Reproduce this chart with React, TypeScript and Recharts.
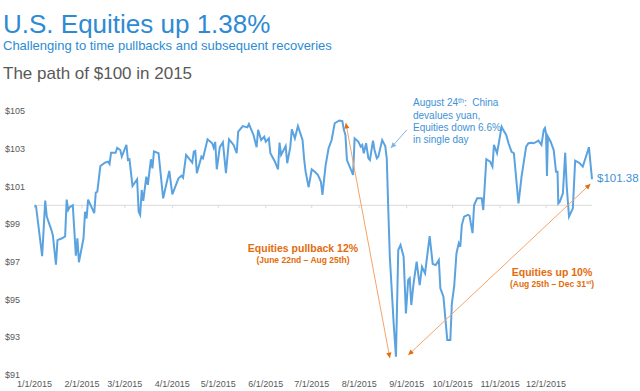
import React from 'react';
import { LineChart, Line, XAxis, YAxis, ReferenceLine } from 'recharts';

// day of year (0 = Jan 1) and value of $100 invested
const days = [
  0, 1, 5, 7, 8, 11, 12, 14, 15, 18, 20, 21, 22, 23, 25, 27, 28, 29, 32, 33, 34, 35, 39, 40, 41, 43, 46, 48, 49,
  50, 53, 54, 56, 57, 60, 61, 62, 64, 67, 68, 69, 70, 71, 73, 74, 76, 77, 78, 81, 84, 88, 90, 94, 96, 97, 99,
  103, 104, 105, 106, 109, 110, 113, 116, 117, 118, 119, 121, 123, 125, 127, 130, 132, 133, 136, 139, 140, 143,
  145, 146, 148, 150, 151, 153, 154, 157, 159, 160, 161, 164, 165, 167, 168, 170, 172, 175, 176, 177, 179, 181,
  183, 185, 187, 188, 190, 192, 194, 196, 199, 201, 202, 203, 204, 208, 209, 211.5, 213, 214, 215, 216.5, 218,
  219, 221, 222, 223.5, 224.5, 227, 229, 230, 231, 232, 233, 234.5, 236, 237.5, 239, 241, 242.5, 244, 245, 246,
  247.5, 249.5, 251.5, 253, 255, 258, 260, 262, 264, 265, 267, 269.5, 271.5, 272.5, 274, 275.5, 277, 278, 279,
  280.5, 283, 284, 286, 287, 289, 292, 293, 295, 297.5, 299, 300, 302, 303.5, 305, 306, 308, 309.5, 311.5, 313,
  316, 318, 321, 322.5, 324.5, 326, 329, 331, 332.5, 333.3, 334, 334.6, 335.2, 337, 339, 340.5, 341.5, 342, 343,
  345, 346.5, 347.5, 349, 351.5, 353, 356, 358, 362, 364,
];
const values = [
  100.0, 99.95, 97.3, 100.25, 99.4, 98.7, 98.4, 96.85, 98.15, 98.25, 98.35, 100.3, 99.75, 99.9, 100.0, 97.33,
  98.25, 96.98, 98.25, 99.66, 99.3, 100.3, 99.58, 100.67, 100.72, 102.08, 102.26, 102.31, 102.19, 102.79, 102.79,
  103.05, 102.93, 102.58, 103.21, 102.4, 102.44, 101.02, 101.38, 99.66, 99.49, 100.81, 100.24, 101.52, 101.08,
  102.44, 101.96, 102.86, 102.76, 100.37, 101.82, 100.58, 101.43, 101.57, 101.46, 102.67, 102.26, 102.84, 102.88,
  101.7, 102.58, 102.49, 103.5, 103.29, 103.05, 103.36, 101.91, 103.08, 103.34, 101.7, 103.5, 103.2, 102.76,
  103.9, 104.2, 104.13, 104.31, 103.73, 103.08, 104.0, 103.46, 103.64, 103.37, 103.55, 102.76, 102.31, 101.91,
  103.32, 102.67, 103.14, 102.23, 103.08, 104.03, 103.55, 104.2, 103.46, 102.49, 101.78, 100.96, 101.91, 101.78,
  101.61, 101.25, 100.55, 102.08, 103.02, 103.46, 104.35, 104.5, 104.47, 104.0, 103.73, 102.4, 101.61, 103.55,
  103.37, 103.11, 103.2, 102.76, 103.29, 102.49, 102.4, 103.43, 102.93, 102.49, 102.58, 103.46, 103.14, 102.49,
  99.75, 97.27, 95.86, 93.74, 91.97, 97.63, 97.9, 97.27, 94.27, 96.04, 96.13, 94.71, 95.86, 97.01, 95.77, 96.74,
  96.39, 98.37, 96.89, 96.83, 97.1, 95.6, 95.15, 92.86, 92.86, 94.8, 95.68, 97.45, 97.99, 97.8, 98.95, 99.4,
  99.49, 99.45, 98.52, 100.0, 100.37, 100.37, 99.75, 102.44, 102.31, 102.05, 103.2, 102.76, 103.46, 104.17, 104.0,
  103.73, 103.29, 102.84, 102.76, 100.1, 101.52, 103.11, 103.29, 103.32, 103.29, 103.43, 103.2, 104.0, 104.1,
  103.8, 101.55, 103.64, 103.37, 102.93, 101.78, 101.78, 100.1, 100.19, 100.64, 102.79, 100.99, 99.4, 99.84,
  102.37, 102.23, 102.05, 103.08, 101.38,
];

const monthDays = [0, 31, 59, 90, 120, 151, 181, 212, 243, 273, 304, 334];
const monthLabels = [
  '1/1/2015', '2/1/2015', '3/1/2015', '4/1/2015', '5/1/2015', '6/1/2015',
  '7/1/2015', '8/1/2015', '9/1/2015', '10/1/2015', '11/1/2015', '12/1/2015',
];
const yTicks = [91, 93, 95, 97, 99, 101, 103, 105];

// annotation arrows: [from, to] in (day, value)
const pullbackArrow = [{ x: 203.3, y: 104.36 }, { x: 232, y: 91.9 }];
const recoveryArrow = [{ x: 244, y: 92.06 }, { x: 363, y: 101.13 }];
const chinaArrow = [{ x: 243.1, y: 104.0 }, { x: 232.7, y: 103.04 }];

const data = days.map((d, i) => ({ day: d, value: values[i] }));

const FONT = '"Liberation Sans", Arial, sans-serif';
const ORANGE = '#E46C0A';
const BLUE = '#2E8BD3';

function arrowHead(x: number, y: number, fx: number, fy: number, size: number, color: string, key: string) {
  const a = Math.atan2(y - fy, x - fx);
  const p1 = [x - size * Math.cos(a - 0.45), y - size * Math.sin(a - 0.45)];
  const p2 = [x - size * Math.cos(a + 0.45), y - size * Math.sin(a + 0.45)];
  return <polygon key={key} points={`${x},${y} ${p1[0]},${p1[1]} ${p2[0]},${p2[1]}`} fill={color} />;
}

const makeArrow = (lineColor: string, headColor: string, both: boolean) => (p: any) => {
  const { x1, y1, x2, y2 } = p;
  return (
    <g>
      <line x1={x1} y1={y1} x2={x2} y2={y2} stroke={lineColor} strokeWidth={1} />
      {both ? arrowHead(x1, y1, x2, y2, 6, headColor, 'a') : null}
      {arrowHead(x2, y2, x1, y1, 6, headColor, 'b')}
    </g>
  );
};

const zeroLine = (p: any) => {
  const { x1, y1, x2 } = p;
  return (
    <g>
      <line x1={x1} y1={y1} x2={x2} y2={y1} stroke="#D9D9D9" strokeWidth={1} />
      {monthDays.map((d) => {
        const x = x1 + (d / 364) * (x2 - x1);
        return <line key={d} x1={x} y1={y1} x2={x} y2={y1 + 3} stroke="#D9D9D9" strokeWidth={1} />;
      })}
    </g>
  );
};

const YTick = (p: any) => (
  <text x={5} y={p.y} dy="0.35em" fontSize={9} fill="#595959" fontFamily={FONT} textAnchor="start">
    ${p.payload.value}
  </text>
);

const abs = (left: number, top: number, extra: React.CSSProperties = {}): React.CSSProperties => ({
  position: 'absolute',
  left,
  top,
  fontFamily: FONT,
  whiteSpace: 'nowrap',
  ...extra,
});

const sup: React.CSSProperties = { fontSize: '0.7em', position: 'relative', top: '-0.45em' };

export default function App() {
  return (
    <div style={{ position: 'absolute', left: 0, top: 0, width: 640, height: 391, background: '#fff' }}>
      <LineChart width={640} height={391} data={data} margin={{ top: 111, right: 48, left: 4.5, bottom: 2 }}>
        <XAxis
          dataKey="day"
          type="number"
          domain={[0, 364]}
          ticks={monthDays}
          tickFormatter={(v: number) => monthLabels[monthDays.indexOf(v)]}
          interval={0}
          axisLine={false}
          tickLine={false}
          tickSize={0}
          tickMargin={6}
          height={14}
          tick={{ fontSize: 9, fill: '#595959', fontFamily: FONT }}
        />
        <YAxis
          type="number"
          domain={[91, 105]}
          ticks={yTicks}
          axisLine={false}
          tickLine={false}
          width={30}
          tick={<YTick />}
        />
        <ReferenceLine y={100} shape={zeroLine} />
        <Line
          type="linear"
          dataKey="value"
          stroke="#5BA3E0"
          strokeWidth={2}
          dot={false}
          isAnimationActive={false}
        />
        <ReferenceLine segment={pullbackArrow} shape={makeArrow('#F4A46A', ORANGE, true)} />
        <ReferenceLine segment={recoveryArrow} shape={makeArrow('#F4A46A', ORANGE, true)} />
        <ReferenceLine segment={chinaArrow} shape={makeArrow('#7DB6E6', '#7DB6E6', false)} />
      </LineChart>

      <div style={abs(3, 9, { fontSize: 26, color: BLUE, lineHeight: '30px' })}>U.S. Equities up 1.38%</div>
      <div style={abs(3, 38, { fontSize: 13, color: BLUE, lineHeight: '15px' })}>
        Challenging to time pullbacks and subsequent recoveries
      </div>
      <div style={abs(3, 64, { fontSize: 17, color: '#595959', lineHeight: '20px' })}>The path of $100 in 2015</div>

      <div style={abs(413, 97, { fontSize: 10, color: '#3E92D6', lineHeight: '12px' })}>
        August 24<span style={sup}>th</span>:&nbsp; China
        <br />
        devalues yuan,
        <br />
        Equities down 6.6%
        <br />
        in single day
      </div>
      <div style={abs(597, 171, { fontSize: 11.5, color: '#3E92D6', lineHeight: '14px' })}>$101.38</div>

      <div style={abs(213, 242, { width: 180, textAlign: 'center', color: ORANGE, fontWeight: 'bold' })}>
        <div style={{ fontSize: 10.5, lineHeight: '13px' }}>Equities pullback 12%</div>
        <div style={{ fontSize: 8.5, lineHeight: '11px' }}>(June 22nd – Aug 25th)</div>
      </div>
      <div style={abs(462, 266, { width: 180, textAlign: 'center', color: ORANGE, fontWeight: 'bold' })}>
        <div style={{ fontSize: 10.5, lineHeight: '13px' }}>Equities up 10%</div>
        <div style={{ fontSize: 8.5, lineHeight: '11px' }}>
          (Aug 25th – Dec 31<span style={sup}>st</span>)
        </div>
      </div>
    </div>
  );
}
